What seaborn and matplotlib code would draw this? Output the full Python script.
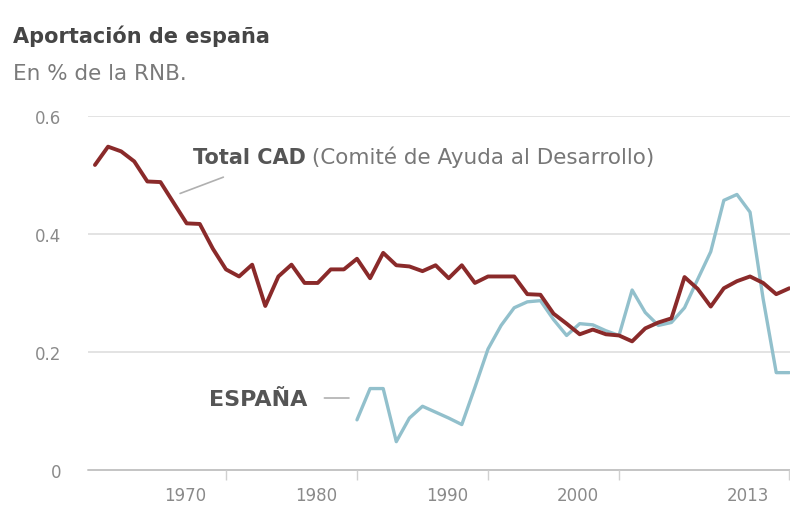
#Aportación de España - AOD en % de la RNB

#Imports
import numpy as np
import pandas as pd
import matplotlib.pyplot as plt
import matplotlib.transforms as mtrans
import seaborn as sea

#Datos
anios_cad = list(range(1960, 2014))
total_cad = [0.517, 0.548, 0.540, 0.523, 0.489, 0.488, 0.453, 0.418, 0.417, 0.375,
             0.340, 0.328, 0.348, 0.278, 0.328, 0.348, 0.317, 0.317, 0.340, 0.340,
             0.358, 0.325, 0.368, 0.347, 0.345, 0.337, 0.347, 0.325, 0.347, 0.317,
             0.328, 0.328, 0.328, 0.298, 0.297, 0.265, 0.248, 0.230, 0.238, 0.230,
             0.228, 0.218, 0.240, 0.250, 0.257, 0.327, 0.307, 0.277, 0.308, 0.320,
             0.328, 0.317, 0.298, 0.308]

anios_esp = list(range(1980, 2014))
espana = [0.085, 0.138, 0.138, 0.048, 0.088, 0.108, 0.098, 0.088, 0.077, 0.140,
          0.205, 0.245, 0.275, 0.285, 0.287, 0.255, 0.228, 0.248, 0.246, 0.236,
          0.228, 0.305, 0.267, 0.245, 0.250, 0.275, 0.323, 0.370, 0.457, 0.467,
          0.437, 0.290, 0.165, 0.165]

ticks_x = [1970, 1980, 1990, 2000, 2013]
ticks_y = [0, 0.2, 0.4, 0.6]
etiquetas_y = ["0", "0.2", "0.4", "0.6"]

df_cad = pd.DataFrame({"anio": anios_cad, "valor": total_cad})
df_esp = pd.DataFrame({"anio": anios_esp, "valor": espana})

sea.set_style("white")
plt.rcParams['font.family'] = ['DejaVu Sans']

fig = plt.figure(figsize = (7.9, 5.06), dpi = 100)
ax = fig.add_axes([0.1114, 0.0692, 0.8886, 0.6996])

#Lineas
sea.lineplot(data = df_esp, x = "anio", y = "valor", color = "#92c0cc", linewidth = 2.4, ax = ax)
sea.lineplot(data = df_cad, x = "anio", y = "valor", color = "#8a2a2a", linewidth = 2.8, ax = ax)

ax.set_xlim(1959.47, 2013.05)
ax.set_ylim(0, 0.6)
ax.set_xlabel("")
ax.set_ylabel("")

#Rejilla
for v in ticks_y[1:]:
    ax.axhline(v, color = "#dedede", linewidth = 1.2, zorder = 0)
ax.axhline(0, color = "#c4c4c4", linewidth = 1.4, zorder = 0, clip_on = False)
sea.despine(ax = ax, left = True, bottom = True, top = True, right = True)

ax.set_yticks(ticks_y)
ax.set_yticklabels(etiquetas_y)
ax.tick_params(axis = "y", length = 0, pad = 19, labelsize = 12, labelcolor = "#8a8a8a")

ax.set_xticks(ticks_x)
ax.set_xticklabels([str(t) for t in ticks_x])
ax.tick_params(axis = "x", direction = "out", length = 7, width = 1, color = "#d0d0d0",
               pad = 4.5, labelsize = 12, labelcolor = "#8a8a8a", bottom = True)
desplaza = mtrans.ScaledTranslation(-0.20, 0, fig.dpi_scale_trans)
for lab in ax.get_xticklabels():
    lab.set_horizontalalignment("right")
    lab.set_transform(lab.get_transform() + desplaza)

#Titulos
fig.text(13 / 790, 1 - 43 / 506, "Aportación de españa", fontsize = 15, fontweight = "bold",
         color = "#454545", ha = "left", va = "baseline")
fig.text(13 / 790, 1 - 80 / 506, "En % de la RNB.", fontsize = 15.5,
         color = "#7a7a7a", ha = "left", va = "baseline")

#Anotaciones
t1 = ax.text(1967.45, 0.52, "Total CAD", fontsize = 15, fontweight = "bold",
             color = "#555555", ha = "left", va = "baseline")
ax.annotate(" (Comité de Ayuda al Desarrollo)", xy = (1, 0), xycoords = t1,
            fontsize = 15.5, color = "#777777", ha = "left", va = "bottom")
ax.annotate("", xy = (1966.3, 0.467), xytext = (1970.0, 0.498),
            arrowprops = dict(arrowstyle = "-", color = "#b0b0b0", linewidth = 1.2))

ax.text(1976.2, 0.121, "ESPAÑA", fontsize = 16, fontweight = "bold",
        color = "#555555", ha = "right", va = "center")
ax.annotate("", xy = (1979.6, 0.122), xytext = (1977.3, 0.122),
            arrowprops = dict(arrowstyle = "-", color = "#b0b0b0", linewidth = 1.2))

plt.savefig("out.png", dpi = 100)
